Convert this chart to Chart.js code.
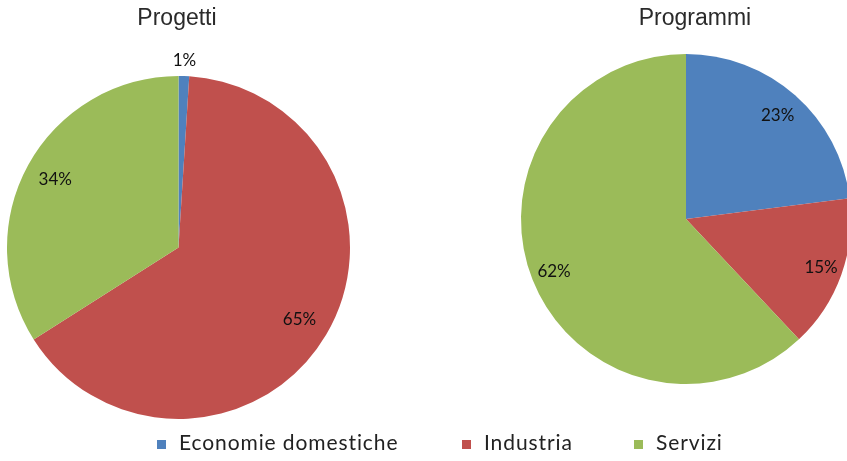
<!DOCTYPE html>
<html>
<head>
<meta charset="utf-8">
<script src="https://cdn.jsdelivr.net/npm/chart.js@4"></script>
<style>
  html, body { margin: 0; padding: 0; background: #fff; overflow: hidden; }
  body { width: 847px; height: 461px; position: relative; }
  canvas { position: absolute; left: 0; top: 0; }
  .title { position: absolute; top: 4px; width: 240px; margin-left: -120px; text-align: center;
           font-family: "Liberation Sans", Arial, sans-serif; font-size: 23px; color: #2a2a2a; }
  .leg { position: absolute; top: 429px; font-family: Lato, "Open Sans", sans-serif; font-size: 21px;
         color: #222; white-space: nowrap; letter-spacing: 0.9px; }
  .leg i { display: inline-block; width: 9px; height: 9px; margin-right: 13px; vertical-align: 1px; }
</style>
</head>
<body>
<canvas id="left" width="847" height="461"></canvas>
<canvas id="right" width="870" height="461"></canvas>
<div class="title" style="left:177px">Progetti</div>
<div class="title" style="left:695px">Programmi</div>
<div id="legend"></div>
<script>
// data
const categories = ["Economie domestiche", "Industria", "Servizi"];
const progetti = [1, 65, 34];
const programmi = [23, 15, 62];
const colors = ["#4F81BD", "#C0504D", "#9BBB59"];

// where each percent label sits, as a fraction of the radius
const progettiLabelPos = [1.09, 0.82, 0.82];
const programmiLabelPos = [0.84, 0.87, 0.86];

const pctLabels = {
  id: "pctLabels",
  afterDatasetsDraw(chart, args, opts) {
    const ctx = chart.ctx;
    const meta = chart.getDatasetMeta(0);
    const vals = chart.data.datasets[0].data;
    ctx.save();
    ctx.font = "17px Lato, 'Open Sans', sans-serif";
    ctx.fillStyle = "#111";
    ctx.textAlign = "center";
    ctx.textBaseline = "middle";
    meta.data.forEach((arc, i) => {
      const p = arc.getProps(["x", "y", "startAngle", "endAngle", "outerRadius"], true);
      const mid = (p.startAngle + p.endAngle) / 2;
      const r = p.outerRadius * opts.pos[i];
      ctx.fillText(vals[i] + "%", p.x + Math.cos(mid) * r, p.y + Math.sin(mid) * r);
    });
    ctx.restore();
  }
};

function makePie(id, values, pos, pad) {
  new Chart(document.getElementById(id), {
    type: "pie",
    data: {
      labels: categories,
      datasets: [{ data: values, backgroundColor: colors, borderWidth: 0, hoverOffset: 0 }]
    },
    options: {
      responsive: false,
      animation: false,
      events: [],
      layout: { padding: pad },
      plugins: {
        legend: { display: false },
        tooltip: { enabled: false },
        pctLabels: { pos: pos }
      }
    },
    plugins: [pctLabels]
  });
}

makePie("left", progetti, progettiLabelPos, { left: 7, top: 76, right: 847 - 350, bottom: 461 - 419 });
makePie("right", programmi, programmiLabelPos, { left: 521, top: 54, right: 870 - 851, bottom: 461 - 384 });

// legend
const legendX = [157, 462, 634];
const legend = document.getElementById("legend");
categories.forEach((c, i) => {
  const d = document.createElement("div");
  d.className = "leg";
  d.style.left = legendX[i] + "px";
  d.innerHTML = '<i style="background:' + colors[i] + '"></i>' + c;
  legend.appendChild(d);
});
</script>
</body>
</html>
